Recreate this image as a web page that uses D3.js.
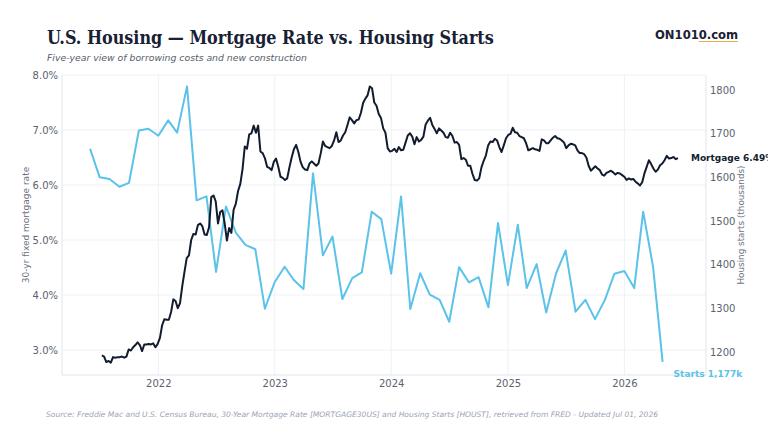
<!DOCTYPE html>
<html>
<head>
<meta charset="utf-8">
<script src="https://cdn.jsdelivr.net/npm/d3@7"></script>
<style>
  body { margin: 0; background: #fff; }
  svg { display: block; }
</style>
</head>
<body>
<svg id="chart" width="768" height="432"></svg>
<script>
// 30-yr mortgage rate, weekly (Thursdays) starting 2021-07-08, percent
var rateStart = "2021-07-08";
var rate2021 = [2.90, 2.88, 2.78, 2.80, 2.77, 2.87, 2.86, 2.87, 2.87, 2.88, 2.86, 2.88, 3.01,
  2.99, 3.05, 3.09, 3.14, 3.09, 2.98, 3.10, 3.10, 3.11, 3.10, 3.12, 3.05, 3.11];
var rate2022 = [3.22, 3.45, 3.56, 3.55, 3.55, 3.69, 3.92, 3.89, 3.76, 3.85, 4.16, 4.42, 4.67,
  4.72, 5.00, 5.11, 5.10, 5.27, 5.30, 5.25, 5.10, 5.09, 5.23, 5.78, 5.81, 5.70,
  5.30, 5.51, 5.54, 5.30, 4.99, 5.22, 5.13, 5.55, 5.66, 5.89, 6.02, 6.29, 6.70,
  6.66, 6.92, 6.94, 7.08, 6.95, 7.08, 6.61, 6.58, 6.49, 6.33, 6.31, 6.27, 6.42];
var rate2023 = [6.48, 6.33, 6.15, 6.13, 6.09, 6.12, 6.32, 6.50, 6.65, 6.73, 6.60, 6.42, 6.32,
  6.28, 6.27, 6.39, 6.43, 6.39, 6.35, 6.39, 6.57, 6.79, 6.71, 6.69, 6.67, 6.71,
  6.81, 6.96, 6.78, 6.81, 6.90, 6.96, 7.09, 7.23, 7.18, 7.12, 7.18, 7.19, 7.31,
  7.49, 7.57, 7.63, 7.79, 7.76, 7.50, 7.44, 7.29, 7.22, 7.03, 6.95, 6.67, 6.61];
var rate2024 = [6.62, 6.66, 6.60, 6.69, 6.63, 6.64, 6.77, 6.90, 6.94, 6.88, 6.74, 6.87, 6.79,
  6.82, 6.88, 7.10, 7.17, 7.22, 7.09, 7.02, 6.94, 7.03, 6.99, 6.95, 6.87, 6.86,
  6.95, 6.89, 6.77, 6.78, 6.73, 6.47, 6.49, 6.46, 6.35, 6.35, 6.20, 6.09, 6.08,
  6.12, 6.32, 6.44, 6.54, 6.72, 6.79, 6.78, 6.84, 6.81, 6.69, 6.60, 6.72, 6.85];
var rate2025 = [6.91, 6.93, 7.04, 6.96, 6.95, 6.89, 6.87, 6.85, 6.76, 6.63, 6.65, 6.67, 6.65,
  6.64, 6.62, 6.83, 6.81, 6.76, 6.76, 6.81, 6.86, 6.89, 6.85, 6.84, 6.81, 6.77,
  6.67, 6.72, 6.75, 6.74, 6.72, 6.63, 6.58, 6.58, 6.56, 6.50, 6.35, 6.26, 6.30,
  6.34, 6.30, 6.27, 6.19, 6.17, 6.22, 6.24, 6.26, 6.23, 6.19, 6.22, 6.21, 6.18, 6.15];
var rate2026 = [6.09, 6.12, 6.10, 6.11, 6.06, 6.03, 5.99, 6.05, 6.21, 6.33, 6.45, 6.38,
  6.30, 6.24, 6.28, 6.36, 6.39, 6.45, 6.53, 6.48, 6.49, 6.51, 6.47, 6.49];

// housing starts, monthly starting 2021-06, thousands (SAAR)
var startsStart = "2021-06-01";
var starts2021 = [1665, 1600, 1596, 1578, 1587, 1707, 1711];
var starts2022 = [1695, 1730, 1702, 1808, 1547, 1556, 1383, 1533, 1473, 1445, 1435, 1299];
var starts2023 = [1360, 1395, 1365, 1344, 1609, 1421, 1464, 1321, 1369, 1382, 1521, 1504];
var starts2024 = [1379, 1556, 1298, 1380, 1331, 1319, 1269, 1394, 1359, 1371, 1302, 1495];
var starts2025 = [1353, 1491, 1346, 1401, 1290, 1380, 1432, 1292, 1319, 1275, 1319, 1379];
var starts2026 = [1385, 1346, 1521, 1395, 1177];

// ticks
var yearTicks = [2022, 2023, 2024, 2025, 2026];
var rateTicks = [3, 4, 5, 6, 7, 8];
var startsTicks = [1200, 1300, 1400, 1500, 1600, 1700, 1800];

var parse = d3.timeParse("%Y-%m-%d");

var rates = [].concat(rate2021, rate2022, rate2023, rate2024, rate2025, rate2026)
  .map(function(v, i) { return { date: d3.timeWeek.offset(parse(rateStart), i), value: v }; });
var starts = [].concat(starts2021, starts2022, starts2023, starts2024, starts2025, starts2026)
  .map(function(v, i) { return { date: d3.timeMonth.offset(parse(startsStart), i), value: v }; });

var svg = d3.select("#chart");
var plotLeft = 62, plotRight = 706, plotTop = 75, plotBottom = 375;

var x = d3.scaleTime()
  .domain([new Date(2021, 2, 5), new Date(2026, 8, 14)])
  .range([plotLeft, plotRight]);
var yRate = d3.scaleLinear().domain([2.545, 8.0]).range([plotBottom, plotTop]);
var yStarts = d3.scaleLinear().domain([1147, 1834]).range([plotBottom, plotTop]);

var gridColor = "#eef1f4", frameColor = "#e1e5ea", tickColor = "#5b6270";

// gridlines
svg.append("g").selectAll("line")
  .data(rateTicks).enter().append("line")
  .attr("x1", plotLeft).attr("x2", plotRight)
  .attr("y1", function(d) { return yRate(d); })
  .attr("y2", function(d) { return yRate(d); })
  .attr("stroke", gridColor).attr("stroke-width", 1);

svg.append("g").selectAll("line")
  .data(yearTicks).enter().append("line")
  .attr("x1", function(d) { return x(new Date(d, 0, 1)); })
  .attr("x2", function(d) { return x(new Date(d, 0, 1)); })
  .attr("y1", plotTop).attr("y2", plotBottom)
  .attr("stroke", gridColor).attr("stroke-width", 1);

// frame
svg.append("line").attr("x1", plotLeft).attr("x2", plotLeft).attr("y1", plotTop).attr("y2", plotBottom)
  .attr("stroke", frameColor);
svg.append("line").attr("x1", plotRight).attr("x2", plotRight).attr("y1", plotTop).attr("y2", plotBottom)
  .attr("stroke", frameColor);
svg.append("line").attr("x1", plotLeft).attr("x2", plotRight).attr("y1", plotBottom).attr("y2", plotBottom)
  .attr("stroke", frameColor);

// axes
function styleAxis(g) {
  g.select(".domain").remove();
  g.selectAll("line").remove();
  g.selectAll("text")
    .attr("fill", tickColor)
    .style("font-family", "'DejaVu Sans', sans-serif")
    .style("font-size", "10px");
}

svg.append("g")
  .attr("transform", "translate(" + plotLeft + ",0)")
  .call(d3.axisLeft(yRate).tickValues(rateTicks).tickSize(0).tickPadding(4)
    .tickFormat(function(d) { return d3.format(".1f")(d) + "%"; }))
  .call(styleAxis);

svg.append("g")
  .attr("transform", "translate(" + plotRight + ",0)")
  .call(d3.axisRight(yStarts).tickValues(startsTicks).tickSize(0).tickPadding(4)
    .tickFormat(d3.format("d")))
  .call(styleAxis);

svg.append("g")
  .attr("transform", "translate(0," + plotBottom + ")")
  .call(d3.axisBottom(x).tickValues(yearTicks.map(function(y) { return new Date(y, 0, 1); }))
    .tickSize(0).tickPadding(5).tickFormat(d3.timeFormat("%Y")))
  .call(styleAxis);

// axis titles
svg.append("text")
  .attr("transform", "translate(29," + ((plotTop + plotBottom) / 2) + ") rotate(-90)")
  .attr("text-anchor", "middle")
  .attr("fill", "#6a7180")
  .style("font-family", "'DejaVu Sans', sans-serif")
  .style("font-size", "9px")
  .text("30-yr fixed mortgage rate");

svg.append("text")
  .attr("transform", "translate(744," + ((plotTop + plotBottom) / 2) + ") rotate(-90)")
  .attr("text-anchor", "middle")
  .attr("fill", "#6a7180")
  .style("font-family", "'DejaVu Sans', sans-serif")
  .style("font-size", "8.8px")
  .text("Housing starts (thousands)");

// lines
var rateColor = "#111c2e", startsColor = "#5bc2ea";

svg.append("path")
  .datum(starts)
  .attr("fill", "none")
  .attr("stroke", startsColor)
  .attr("stroke-width", 2)
  .attr("stroke-linejoin", "round")
  .attr("d", d3.line()
    .x(function(d) { return x(d.date); })
    .y(function(d) { return yStarts(d.value); }));

svg.append("path")
  .datum(rates)
  .attr("fill", "none")
  .attr("stroke", rateColor)
  .attr("stroke-width", 2)
  .attr("stroke-linejoin", "round")
  .attr("d", d3.line()
    .x(function(d) { return x(d.date); })
    .y(function(d) { return yRate(d.value); }));

// end labels
var lastRate = rates[rates.length - 1];
var lastStarts = starts[starts.length - 1];

svg.append("text")
  .attr("x", x(lastRate.date) + 13)
  .attr("y", yRate(lastRate.value))
  .attr("dy", "0.35em")
  .attr("fill", rateColor)
  .style("font-family", "'DejaVu Sans', sans-serif")
  .style("font-size", "9px")
  .style("font-weight", "bold")
  .text("Mortgage " + d3.format(".2f")(lastRate.value) + "%");

svg.append("text")
  .attr("x", x(lastStarts.date) + 11)
  .attr("y", yStarts(lastStarts.value) + 12)
  .attr("dy", "0.35em")
  .attr("fill", startsColor)
  .style("font-family", "'DejaVu Sans', sans-serif")
  .style("font-size", "9px")
  .style("font-weight", "bold")
  .text("Starts " + d3.format(",")(lastStarts.value) + "k");

// header
svg.append("text")
  .attr("x", 47).attr("y", 44)
  .attr("fill", "#172133")
  .style("font-family", "'DejaVu Serif', serif")
  .style("font-stretch", "condensed")
  .style("font-size", "17.8px")
  .style("font-weight", "bold")
  .text("U.S. Housing \u2014 Mortgage Rate vs. Housing Starts");

svg.append("text")
  .attr("x", 47).attr("y", 61)
  .attr("fill", "#555d6b")
  .style("font-family", "'DejaVu Sans', sans-serif")
  .style("font-style", "italic")
  .style("font-size", "9.3px")
  .text("Five-year view of borrowing costs and new construction");

var brand = svg.append("text")
  .attr("x", 655).attr("y", 39)
  .attr("fill", "#172133")
  .style("font-family", "'DejaVu Sans', sans-serif")
  .style("font-size", "11.6px")
  .style("font-weight", "bold");
brand.append("tspan").text("ON101");
brand.append("tspan").attr("id", "accent").text("0.com");

var box = document.getElementById("accent").getBBox();
svg.append("line")
  .attr("x1", box.x).attr("x2", box.x + box.width)
  .attr("y1", 41.5).attr("y2", 41.5)
  .attr("stroke", "#e8b04a").attr("stroke-width", 1);

svg.append("text")
  .attr("x", 46).attr("y", 417)
  .attr("fill", "#9ba3b4")
  .style("font-family", "'DejaVu Sans', sans-serif")
  .style("font-style", "italic")
  .style("font-size", "7.55px")
  .text("Source: Freddie Mac and U.S. Census Bureau, 30-Year Mortgage Rate [MORTGAGE30US] and Housing Starts [HOUST], retrieved from FRED - Updated Jul 01, 2026");
</script>
</body>
</html>
